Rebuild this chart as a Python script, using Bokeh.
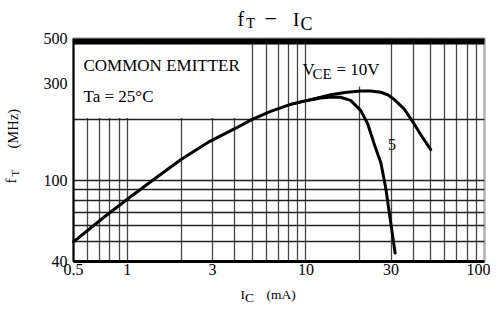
import math
from bokeh.plotting import figure
from bokeh.models import (FixedTicker, BoxAnnotation, Label, CustomJSTickFormatter,
                          LogAxis)
from bokeh.embed import file_html
from bokeh.resources import INLINE

# ---- data ----
ic_10v = [0.5, 0.74, 1.0, 1.4, 2.0, 2.9, 4.0, 5.0, 6.35, 8.2, 10.2, 12.1, 14, 17,
          20.3, 23, 26.3, 29, 31.2, 35.5, 40.4, 45, 50]
ft_10v = [50, 66, 81, 101, 127, 156, 180, 200, 219, 237, 248, 257, 265, 272,
          276, 276, 272, 263, 251, 225, 190, 163, 142]
ic_5v = [8.2, 10.2, 12.1, 14, 15.6, 17.8, 20.3, 22.2, 24.1, 26.3, 28, 29.7, 31.6]
ft_5v = [237, 248, 255, 258, 257, 248, 221, 190, 152, 122, 92, 64, 44]

x_ticks = [0.5, 1, 3, 10, 30, 100]
y_ticks = [40, 100, 300, 500]
x_grid = [0.6, 0.7, 0.8, 0.9, 1, 2, 3, 4, 5, 6, 7, 8, 9, 10, 20, 30, 40, 50, 60, 70, 80, 90]
y_grid = [50, 60, 70, 80, 90, 100, 200]

# ---- layout ----
W, H = 490, 306
X0, X1 = 0.5, 100          # axis limits
Y0, Y1 = 40, 500
PL, PR, PT, PB = 73, 484, 38, 261   # plot box in canvas pixels
SERIF = "Liberation Serif"
SHIFT = 6.5  # text baseline correction


def dx(px):
    return 10 ** (math.log10(X0) + (px - PL) / (PR - PL) * math.log10(X1 / X0))


def dy(py):
    return 10 ** (math.log10(Y0) + (PB - py) / (PB - PT) * math.log10(Y1 / Y0))


# the frame spans the whole canvas; the axes sit at the plot box edges
p = figure(width=W, height=H, x_axis_type="log", y_axis_type="log",
           x_axis_location=None, y_axis_location=None,
           x_range=(dx(0), dx(W)), y_range=(dy(H), dy(0)), title=None,
           output_backend="svg", toolbar_location=None,
           min_border_left=0, min_border_right=0, min_border_top=0, min_border_bottom=0)
p.background_fill_color = "white"
p.border_fill_color = "white"
p.outline_line_color = None

fmt = CustomJSTickFormatter(code="return String(tick);")
xaxis = LogAxis(fixed_location=Y0, bounds=(X0, X1), ticker=FixedTicker(ticks=x_ticks),
                formatter=fmt)
yaxis = LogAxis(fixed_location=X0, bounds=(Y0, Y1), ticker=FixedTicker(ticks=y_ticks),
                formatter=fmt)
for ax in (xaxis, yaxis):
    ax.major_tick_line_color = None
    ax.minor_tick_line_color = None
    ax.major_tick_in = 0
    ax.major_tick_out = 0
    ax.minor_tick_in = 0
    ax.minor_tick_out = 0
    ax.major_label_text_font = SERIF
    ax.major_label_text_font_size = "16px"
    ax.major_label_text_color = "black"
    ax.axis_line_color = "black"
xaxis.axis_line_width = 3
yaxis.axis_line_width = 2
xaxis.major_label_standoff = 2
yaxis.major_label_standoff = 6
p.add_layout(xaxis, "below")
p.add_layout(yaxis, "left")

p.xgrid.ticker = FixedTicker(ticks=x_grid)
p.ygrid.ticker = FixedTicker(ticks=y_grid)
p.xgrid.cross_bounds = (Y0, Y1)
p.ygrid.cross_bounds = (X0, X1)
p.xgrid.grid_line_color = "#444444"
p.ygrid.grid_line_color = "#222222"
p.xgrid.grid_line_width = 1.3
p.ygrid.grid_line_width = 1.3


def white(**kw):
    p.add_layout(BoxAnnotation(fill_color="white", fill_alpha=1, line_alpha=0,
                               level="underlay", **kw))


# keep the grid inside the plot box (masks reach past the canvas edges)
XL, XR, YB, YT = dx(-30), dx(W + 30), dy(H + 30), dy(-30)
white(left=XL, right=X0, bottom=YB, top=YT)
white(left=X1, right=XR, bottom=YB, top=YT)
white(left=XL, right=XR, bottom=Y1, top=YT)
white(left=XL, right=XR, bottom=YB, top=Y0)
# white areas behind the annotation texts
white(left=X0, right=dx(250), bottom=dy(117.5), top=Y1)
white(left=dx(308), right=dx(385), bottom=dy(86), top=Y1)
# heavy top rule
p.add_layout(BoxAnnotation(left=X0, right=X1, bottom=dy(44), top=Y1,
                           fill_color="black", fill_alpha=1, line_alpha=0, level="underlay"))

# curves
p.line(ic_10v, ft_10v, line_width=3, line_color="black", line_join="round", line_cap="round")
p.line(ic_5v, ft_5v, line_width=3, line_color="black", line_join="round", line_cap="round")

# plot box border
p.add_layout(BoxAnnotation(left=X0, right=X1, bottom=Y0, top=Y1, fill_alpha=0,
                           line_color="black", line_width=2.5))


def lab(text, px, py, size, rotated=False):
    if rotated:
        x, y, angle = dx(px - SHIFT), dy(py), math.pi / 2
    else:
        x, y, angle = dx(px), dy(py - SHIFT), 0.0
    p.add_layout(Label(x=x, y=y, text=text, text_font=SERIF,
                       text_font_size=f"{size}px", text_color="black",
                       text_align="left", text_baseline="alphabetic", angle=angle))


# title  f_T - I_C
lab("f", 237, 25, 20)
lab("T", 245.5, 28.5, 15)
lab("\u2212", 264, 25, 22)
lab("I", 292.5, 25, 19)
lab("C", 300, 29.5, 18)

# axis titles
lab("I", 240, 300, 13.5)
lab("C", 244.5, 303, 13.5)
lab("(mA)", 266, 300.5, 13.5)
lab("f", 17, 183, 15, rotated=True)
lab("T", 20.5, 176, 11, rotated=True)
lab("(MHz)", 19, 148, 14.5, rotated=True)

# in-plot annotations
lab("COMMON EMITTER", 83, 71, 17)
lab("Ta = 25\u00b0C", 83, 102.5, 17)
lab("V", 302, 75.5, 17)
lab("CE", 312, 80, 15)
lab("= 10V", 336, 75.5, 17)
lab("5", 387.5, 150, 16)

open("out.html", "w").write(file_html(p, INLINE))
